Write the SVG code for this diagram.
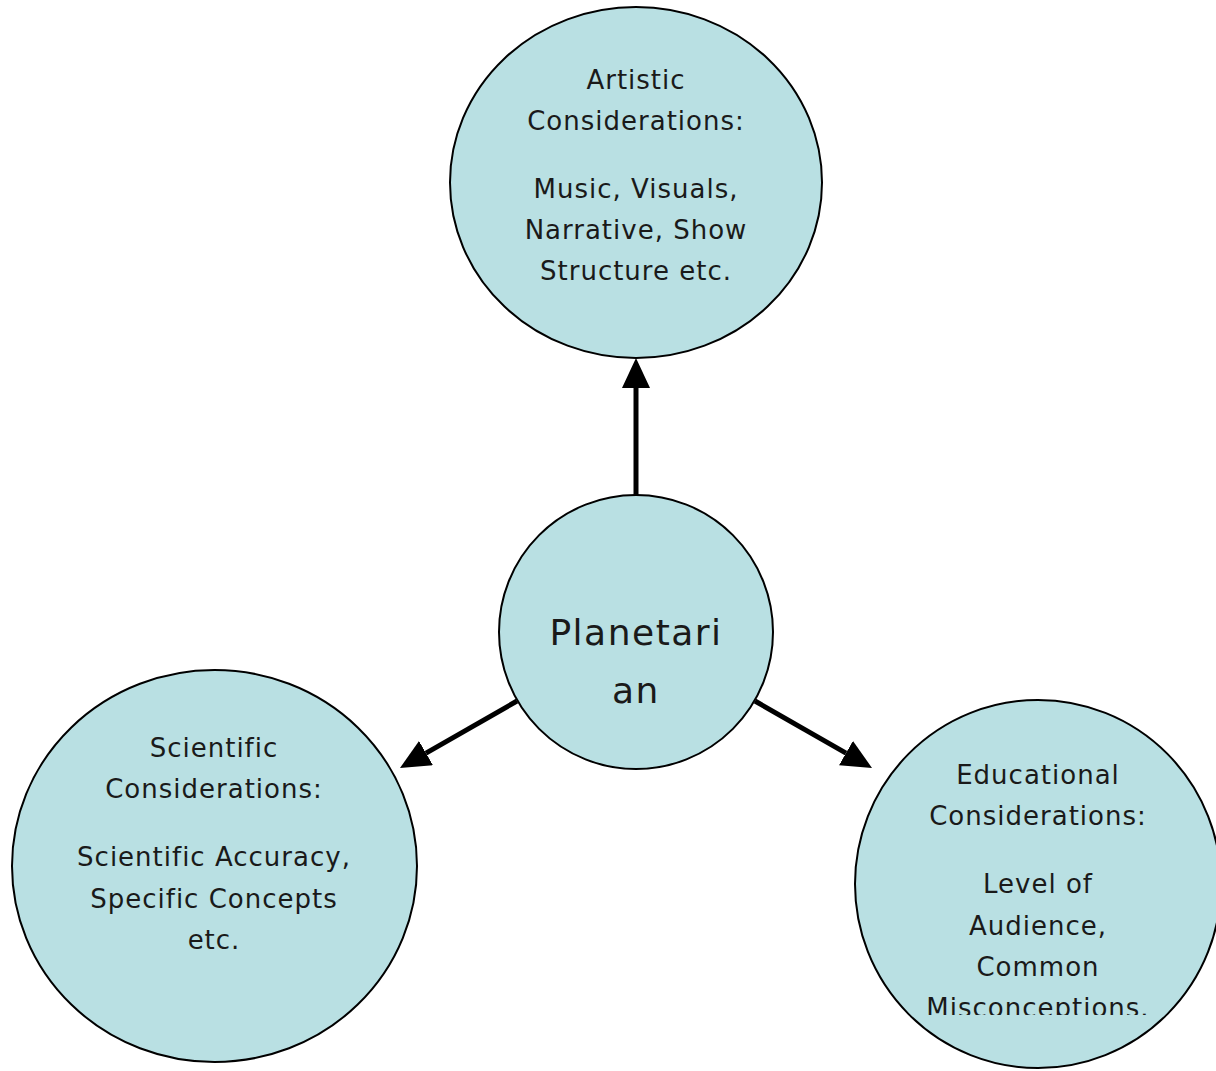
<svg xmlns="http://www.w3.org/2000/svg" width="1216" height="1071" viewBox="0 0 1216 1071">
<style>
.node{fill:#b9e0e3;stroke:#000;stroke-width:2}
.t{font-family:"DejaVu Sans",sans-serif;font-size:26px;fill:#1a1a1a;text-anchor:middle;letter-spacing:1px}
.big{font-size:36px;letter-spacing:1.5px}
.conn{stroke:#000;stroke-width:5;fill:none;marker-end:url(#arr)}
</style>
<defs>
<marker id="arr" markerUnits="userSpaceOnUse" markerWidth="30" markerHeight="28" viewBox="0 0 30 28" refX="0" refY="14" orient="auto">
<path d="M0,0 L30,14 L0,28 z" fill="#000"/>
</marker>
<clipPath id="clipR"><rect x="850" y="690" width="380" height="325"/></clipPath>
</defs>
<rect width="1216" height="1071" fill="#fff"/>
<g id="connectors">
<line class="conn" x1="636" y1="495" x2="636" y2="388"/>
<line class="conn" x1="517" y1="701" x2="426" y2="753.1"/>
<line class="conn" x1="755" y1="701" x2="846" y2="753.1"/>
</g>
<g id="artistic">
<ellipse class="node" cx="636" cy="182.5" rx="186" ry="175.5"/>
<text class="t" x="636" y="89">Artistic</text>
<text class="t" x="636" y="130">Considerations:</text>
<text class="t" x="636" y="198">Music, Visuals,</text>
<text class="t" x="636" y="239">Narrative, Show</text>
<text class="t" x="636" y="280">Structure etc.</text>
</g>
<g id="planetarian">
<ellipse class="node" cx="636" cy="632" rx="137" ry="137"/>
<text class="t big" x="636" y="645">Planetari</text>
<text class="t big" x="636" y="703">an</text>
</g>
<g id="scientific">
<ellipse class="node" cx="214.5" cy="866" rx="202.5" ry="196"/>
<text class="t" x="214" y="757">Scientific</text>
<text class="t" x="214" y="798">Considerations:</text>
<text class="t" x="214" y="866">Scientific Accuracy,</text>
<text class="t" x="214" y="908">Specific Concepts</text>
<text class="t" x="214" y="949">etc.</text>
</g>
<g id="educational">
<ellipse class="node" cx="1038" cy="884" rx="183" ry="184"/>
<g clip-path="url(#clipR)">
<text class="t" x="1038" y="784">Educational</text>
<text class="t" x="1038" y="825">Considerations:</text>
<text class="t" x="1038" y="893">Level of</text>
<text class="t" x="1038" y="935">Audience,</text>
<text class="t" x="1038" y="976">Common</text>
<text class="t" x="1038" y="1017">Misconceptions.</text>
</g>
</g>
</svg>
